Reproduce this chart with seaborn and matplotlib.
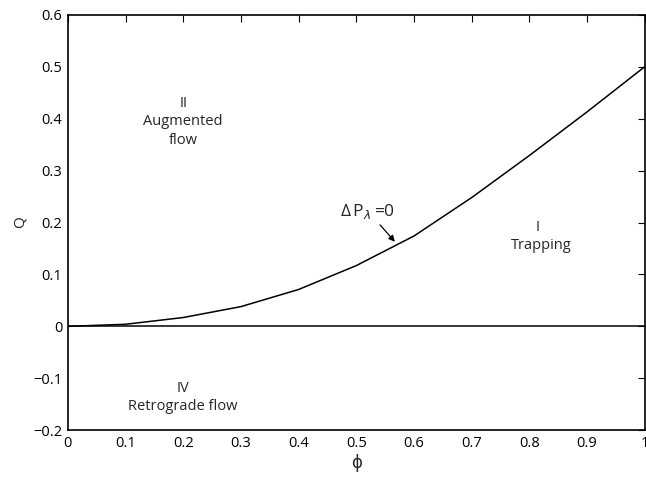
import numpy as np
import pandas as pd
import matplotlib
matplotlib.use("Agg")
import matplotlib.pyplot as plt
import seaborn as sns

# ----------------------------------------------------------------------
# Data
# ----------------------------------------------------------------------
phi = [0.0, 0.1, 0.2, 0.3, 0.4, 0.5, 0.6, 0.7, 0.8, 0.9, 1.0]
Q = [0.0, 0.004, 0.017, 0.038, 0.071, 0.117, 0.174, 0.248, 0.329, 0.413, 0.5]
zero_line = [0.0] * len(phi)

x_ticks = [0, 0.1, 0.2, 0.3, 0.4, 0.5, 0.6, 0.7, 0.8, 0.9, 1]
y_ticks = [-0.2, -0.1, 0, 0.1, 0.2, 0.3, 0.4, 0.5, 0.6]
x_labels = ["0", "0.1", "0.2", "0.3", "0.4", "0.5", "0.6", "0.7", "0.8", "0.9", "1"]
y_labels = ["\u22120.2", "\u22120.1", "0", "0.1", "0.2", "0.3", "0.4", "0.5", "0.6"]

df = pd.DataFrame({"phi": phi, "Q": Q, "zero": zero_line})

# ----------------------------------------------------------------------
# Style
# ----------------------------------------------------------------------
sns.set_style("white")
plt.rcParams["font.family"] = ["Open Sans", "DejaVu Sans"]
plt.rcParams["font.size"] = 10
plt.rcParams["mathtext.fontset"] = "custom"
plt.rcParams["mathtext.rm"] = "Open Sans"

fig = plt.figure(figsize=(6.46, 4.78), dpi=100)
ax = fig.add_axes([0.105, 0.10, 0.893, 0.869])

sns.lineplot(data=df, x="phi", y="Q", color="black", linewidth=1.1, ax=ax)
sns.lineplot(data=df, x="phi", y="zero", color="black", linewidth=1.1, ax=ax)

ax.set_xlim(0, 1)
ax.set_ylim(-0.2, 0.6)
ax.set_xticks(x_ticks)
ax.set_xticklabels(x_labels)
ax.set_yticks(y_ticks)
ax.set_yticklabels(y_labels)
ax.tick_params(direction="in", length=5, width=0.8, top=True, right=True,
               labelsize=10.5, colors="black", pad=4)
for s in ax.spines.values():
    s.set_color("black")
    s.set_linewidth(1.2)

ax.set_xlabel("\u03d5", fontsize=12, labelpad=2)
ax.set_ylabel("Q", fontsize=11, labelpad=4)

# region labels
ax.text(0.2, 0.43, "II", ha="center", va="center", fontsize=10.5)
ax.text(0.2, 0.395, "Augmented", ha="center", va="center", fontsize=10.5)
ax.text(0.2, 0.357, "flow", ha="center", va="center", fontsize=10.5)
ax.text(0.815, 0.19, "I", ha="center", va="center", fontsize=10.5)
ax.text(0.82, 0.156, "Trapping", ha="center", va="center", fontsize=10.5)
ax.text(0.2, -0.12, "IV", ha="center", va="center", fontsize=10.5)
ax.text(0.2, -0.154, "Retrograde flow", ha="center", va="center", fontsize=10.5)

ax.annotate(r"$\Delta\,$P$_{\lambda}\,$=0", xy=(0.567, 0.163), xytext=(0.52, 0.222),
            ha="center", va="center", fontsize=12.5,
            arrowprops=dict(arrowstyle="-|>", color="black", lw=0.9,
                            shrinkA=1, shrinkB=0, mutation_scale=9))

fig.savefig("out.png", dpi=100)
